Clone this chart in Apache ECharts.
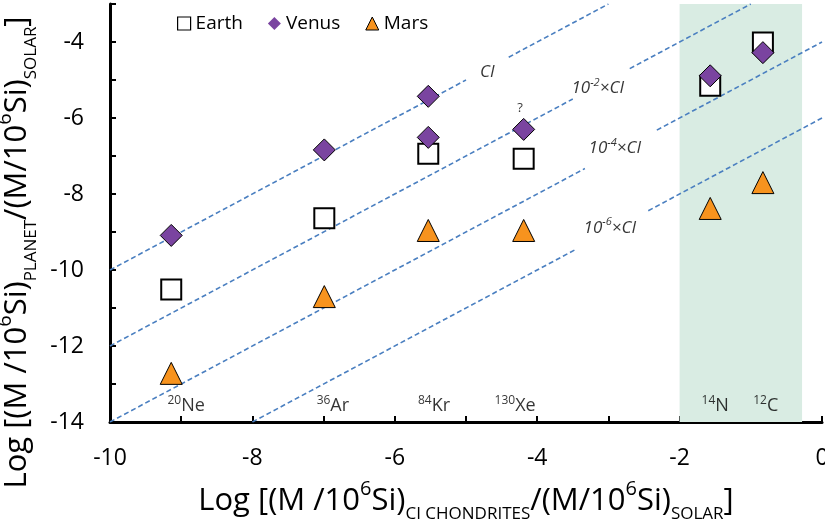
<!DOCTYPE html>
<html><head><meta charset="utf-8">
<script src="https://cdn.jsdelivr.net/npm/echarts@6/dist/echarts.min.js"></script>
<style>html,body{margin:0;padding:0;background:#fff}#c{width:825px;height:525px}</style>
</head><body><div id="c"></div>
<script>
// ---- data ----
const isoMass   = ['20','36','84','130','14','12'];
const isoSymbol = ['Ne','Ar','Kr','Xe','N','C'];
const ciX       = [-9.14, -6.99, -5.53, -4.19, -1.57, -0.83];   // log CI/solar
const earthY    = [-10.51, -8.64, -6.94, -7.07, -5.15, -4.01];
const venusIdx  = [0, 1, 2, 2, 3, 4, 5];
const venusY    = [-9.09, -6.84, -5.43, -6.51, -6.30, -4.89, -4.28];
const marsY     = [-12.72, -10.70, -8.96, -8.96, -8.38, -7.70];
const isoLabelX = [-8.93, -6.87, -5.45, -4.31, -1.50, -0.79];
const isoLabelY = -13.58;
const refNames  = ['CI', '10{s|-2}×CI', '10{s|-4}×CI', '10{s|-6}×CI'];
const refLabelPos = [[-4.70,-4.79],[-3.15,-5.21],[-2.91,-6.79],[-2.98,-8.89]];
const refSegments = [
  [[-10,-10],[-5.0,-5.0]], [[-4.4,-4.4],[-3,-3]],
  [[-10,-12],[-3.5,-5.5]], [[-2.7,-4.7],[-1,-3]],
  [[-10,-14],[-3.33,-7.33]], [[-2.32,-6.32],[0,-4]],
  [[-8,-14],[-3.47,-9.47]], [[-2.44,-8.44],[0,-6]]
];
const questionPos = [-4.24, -5.74];
const bandRange = [-2, -0.28];
const xTicks = {min:-10, max:0, step:1, labelEvery:2};
const yTicks = {min:-14, max:-3, step:1, labelEvery:2};

const F = 'Open Sans';
const chart = echarts.init(document.getElementById('c'));

const nameRich = {
  sup:{fontFamily:F, fontSize:20, lineHeight:30, verticalAlign:'top', color:'#000'},
  sub:{fontFamily:F, fontSize:17, lineHeight:30, verticalAlign:'bottom', color:'#000'}
};
const axisCommon = {
  type:'value', splitLine:{show:false},
  axisLine:{show:true, onZero:false, lineStyle:{color:'#000', width:3}},
  axisTick:{show:true, inside:true, length:6, lineStyle:{color:'#000', width:2}},
  nameLocation:'middle'
};

chart.setOption({
  animation:false,
  grid:{left:110, right:3, top:4, bottom:103, containLabel:false, outerBoundsMode:'none'},
  legend:{
    left:172, top:9, itemWidth:13, itemHeight:13, itemGap:25,
    textStyle:{fontFamily:F, fontSize:19, color:'#000'},
    data:[
      {name:'Earth', icon:'rect', itemStyle:{color:'#fff', borderColor:'#000', borderWidth:1.2}},
      {name:'Venus', icon:'diamond', itemStyle:{borderWidth:0}},
      {name:'Mars', icon:'triangle', itemStyle:{borderColor:'#000', borderWidth:1}}
    ]
  },
  xAxis:Object.assign({}, axisCommon, {
    min:xTicks.min, max:xTicks.max, interval:xTicks.step,
    axisLabel:{fontFamily:F, fontSize:23, color:'#000', margin:25,
      formatter:v => (Math.round(v) % xTicks.labelEvery === 0 ? String(v) : '')},
    name:'Log [(M /10{sup|6}Si){sub|CI CHONDRITES}/(M/10{sup|6}Si){sub|SOLAR}]',
    nameGap:57,
    nameTextStyle:{fontFamily:F, fontSize:31, color:'#000', lineHeight:44, rich:nameRich}
  }),
  yAxis:Object.assign({}, axisCommon, {
    min:yTicks.min, max:yTicks.max, interval:yTicks.step,
    axisLabel:{fontFamily:F, fontSize:23, color:'#000', margin:26,
      formatter:v => (Math.round(v) % yTicks.labelEvery === 0 ? String(v) : '')},
    name:'Log [(M /10{sup|6}Si){sub|PLANET}/(M/10{sup|6}Si){sub|SOLAR}]',
    nameRotate:90, nameGap:55,
    nameTextStyle:{fontFamily:F, fontSize:31, color:'#000', lineHeight:44, rich:nameRich, padding:[0,79,0,0]}
  }),
  series:[
    {
      name:'refLines', type:'lines', coordinateSystem:'cartesian2d', z:1, silent:true,
      lineStyle:{color:'#4a7fc0', width:1.6, type:[5,3], opacity:1},
      data:refSegments.map(s => ({coords:s})),
      markArea:{silent:true, itemStyle:{color:'#d9ece3'},
        data:[[{xAxis:bandRange[0]},{xAxis:bandRange[1]}]]}
    },
    {
      name:'Earth', type:'scatter', z:3, symbol:'rect', symbolSize:20,
      itemStyle:{color:'#fff', borderColor:'#000', borderWidth:2, opacity:1},
      data:ciX.map((x,i) => [x, earthY[i]])
    },
    {
      name:'Venus', type:'scatter', z:4, symbol:'diamond', symbolSize:22,
      itemStyle:{color:'#7a44a0', borderColor:'#000', borderWidth:1, opacity:1},
      data:venusIdx.map((k,i) => [ciX[k], venusY[i]])
    },
    {
      name:'Mars', type:'scatter', z:5, symbol:'triangle', symbolSize:22,
      itemStyle:{color:'#f7931e', borderColor:'#000', borderWidth:1, opacity:1},
      data:ciX.map((x,i) => [x, marsY[i]])
    },
    {
      name:'isoLabels', type:'scatter', z:6, symbolSize:0, silent:true,
      data:isoLabelX.map((x,i) => ({value:[x, isoLabelY], mass:isoMass[i], sym:isoSymbol[i]})),
      label:{show:true, position:'inside', color:'#000', fontFamily:F, fontSize:18, lineHeight:22,
        formatter:p => '{m|' + p.data.mass + '}' + p.data.sym,
        rich:{m:{fontFamily:F, fontSize:12, lineHeight:16, verticalAlign:'top', color:'#000'}}}
    },
    {
      name:'refLabels', type:'scatter', z:6, symbolSize:0, silent:true,
      data:refLabelPos.map((p,i) => ({value:p, txt:refNames[i]})),
      label:{show:true, position:'inside', color:'#000', fontFamily:F, fontSize:17, fontStyle:'italic', lineHeight:22,
        formatter:p => p.data.txt,
        rich:{s:{fontFamily:F, fontSize:11, fontStyle:'italic', lineHeight:15, verticalAlign:'top', color:'#000'}}}
    },
    {
      name:'question', type:'scatter', z:6, symbolSize:0, silent:true,
      data:[{value:questionPos}],
      label:{show:true, position:'inside', color:'#000', fontFamily:F, fontSize:13, formatter:'?'}
    }
  ]
});
</script></body></html>
